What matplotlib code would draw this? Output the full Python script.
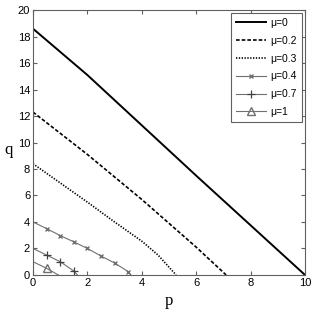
import matplotlib
matplotlib.use('Agg')
import matplotlib.pyplot as plt

plt.rcParams['font.family'] = ['Liberation Sans', 'DejaVu Sans']

# data
p_mu0 = [0, 2, 4, 6, 8, 10]
q_mu0 = [18.6, 15.1, 11.3, 7.5, 3.75, 0]
p_mu02 = [0, 1, 2, 3, 4, 5, 6, 7.1]
q_mu02 = [12.3, 10.7, 9.1, 7.4, 5.7, 3.9, 2.1, 0]
p_mu03 = [0, 1, 2, 3, 4, 4.6, 5.26]
q_mu03 = [8.4, 6.95, 5.5, 4.0, 2.55, 1.5, 0]
p_mu04 = [0, 0.5, 1, 1.5, 2, 2.5, 3, 3.5, 3.6]
q_mu04 = [4.0, 3.5, 2.97, 2.5, 2.0, 1.43, 0.9, 0.25, 0]
p_mu07 = [0, 0.5, 1, 1.5, 1.63]
q_mu07 = [2.0, 1.5, 1.0, 0.3, 0]
p_mu1 = [0, 0.5, 0.93]
q_mu1 = [1.0, 0.5, 0]
labels = ['\u03bc=0', '\u03bc=0.2', '\u03bc=0.3', '\u03bc=0.4', '\u03bc=0.7', '\u03bc=1']

fig = plt.figure(figsize=(3.2, 3.16), dpi=100)
ax = fig.add_axes([0.103, 0.13, 0.85, 0.838])

gray = '#707070'
ax.plot(p_mu0, q_mu0, 'k-', lw=1.4, label=labels[0])
ax.plot(p_mu02, q_mu02, 'k--', lw=1.2, dashes=(2.2, 1.2), label=labels[1])
ax.plot(p_mu03, q_mu03, 'k:', lw=1.2, dashes=(0.8, 0.9), label=labels[2])
ax.plot(p_mu04, q_mu04, '-', color=gray, lw=0.8, marker='x', ms=3,
        markevery=list(range(1, len(p_mu04) - 1)), label=labels[3])
ax.plot(p_mu07, q_mu07, '-', color=gray, lw=0.8, marker='+', ms=6, mew=0.9,
        mec='#404040', markevery=list(range(1, len(p_mu07) - 1)), label=labels[4])
ax.plot(p_mu1, q_mu1, '-', color=gray, lw=0.8, marker='^', ms=6, mfc='none',
        mec=gray, markevery=[1], label=labels[5])

ax.set_xlim(0, 10)
ax.set_ylim(0, 20)
ax.set_xticks([0, 2, 4, 6, 8, 10])
ax.set_yticks(range(0, 21, 2))
ax.tick_params(direction='in', top=True, right=True, labelsize=8, length=3,
               color='#606060', pad=2)
for s in ax.spines.values():
    s.set_color('#606060')
    s.set_linewidth(0.8)

ax.set_xlabel('p', family='Liberation Serif', fontsize=12, labelpad=4)
ax.set_ylabel('q', family='Liberation Serif', fontsize=12, rotation=0)
ax.yaxis.set_label_coords(-0.09, 0.44)

leg = ax.legend(loc='upper right', fontsize=7.5, fancybox=False, framealpha=1,
                edgecolor='#606060', handlelength=2.9, borderaxespad=0.25,
                labelspacing=0.75, handletextpad=0.4, borderpad=0.5)
leg.get_frame().set_linewidth(0.8)

fig.savefig('out.png', dpi=100)
